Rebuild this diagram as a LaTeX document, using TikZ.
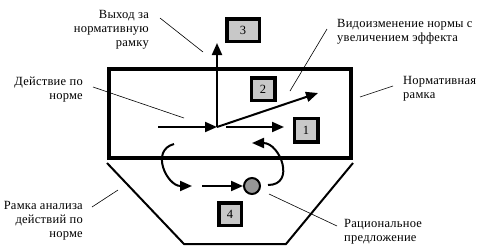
\documentclass[tikz,border=0pt]{standalone}
\usepackage{fontspec}
\setmainfont[LetterSpace=2]{Liberation Serif}
\usetikzlibrary{arrows, arrows.meta}
\definecolor{boxgray}{RGB}{200,200,200}
\definecolor{dotgray}{RGB}{150,150,150}

\begin{document}
\begin{tikzpicture}[x=1pt, y=-1pt,
		nummer/.style={draw, fill=boxgray, line width=3.5pt, inner sep=0pt, minimum width=23.5pt, minimum height=22.5pt, font=\fontsize{12.5}{12}\selectfont},
		beschr/.style={inner sep=0pt, font=\fontsize{12.5}{14}\selectfont},
		pfeil/.style={line width=2pt, -{Triangle[length=12pt,width=10pt]}},
		zeiger/.style={line width=0.6pt}]
		\useasboundingbox (0,0) rectangle (482,250);
		% Rahmen zeichnen
		\draw[line width=4pt] (109,69) rectangle (351,158);
		\draw[line width=2pt, line join=miter] (107,163) -- (184,244) -- (286,244) -- (353,163);
		% Nummern
		\node[nummer, minimum width=32.5pt] (n3) at (243,30) {3};
		\node[nummer] (n2) at (263,89) {2};
		\node[nummer, minimum height=23.5pt] (n1) at (306,130) {1};
		\node[nummer, minimum width=22.5pt] (n4) at (230,214) {4};
		% Pfeile
		\coordinate (mitte) at (217,127);
		\coordinate (ein) at (158,127);
		\coordinate (aus) at (226,127);
		\coordinate (ausende) at (284,127);
		\coordinate (oben) at (217,43);
		\coordinate (schraeg) at (318,93);
		\draw[pfeil] (ein) -- (mitte);
		\draw[pfeil] (mitte) -- (oben);
		\draw[pfeil] (aus) -- (ausende);
		\draw[pfeil] (mitte) -- (schraeg);
		% Kreislauf unten
		\node[circle, draw, fill=dotgray, line width=2pt, minimum size=16pt, inner sep=0pt] (punkt) at (252,186) {};
		\coordinate (lstart) at (174,144);
		\coordinate (lende) at (192,186);
		\coordinate (mstart) at (202,186);
		\coordinate (rstart) at (268,185);
		\coordinate (rende) at (252,143);
		\draw[pfeil] (lstart) to[out=195, in=180, looseness=1.4] (lende);
		\draw[pfeil] (mstart) -- (punkt.west);
		\draw[pfeil] (rstart) to[out=0, in=0, looseness=1.6] (rende);
		%Beschriftung
		\node[beschr, align=right, anchor=east] (vyhod) at (149,30) {Выход за\\нормативную\\рамку};
		\node[beschr, align=right, anchor=east] (dejstvie) at (83,90) {Действие по\\норме};
		\node[beschr, align=left, anchor=west] (vidoizm) at (337,32) {Видоизменение нормы с\\увеличением эффекта};
		\node[beschr, align=left, anchor=west] (normramka) at (403,89) {Нормативная\\рамка};
		\node[beschr, align=right, anchor=east] (analiz) at (83,221) {Рамка анализа\\действий по\\норме};
		\node[beschr, align=left, anchor=west] (racio) at (344,232) {Рациональное\\предложение};
		% Zeigerlinien
		\draw[zeiger] (vyhod.east) ++(11,-12) -- (203,52);
		\draw[zeiger] (dejstvie.east) ++(10,-3) -- (184,118);
		\draw[zeiger] (vidoizm.west) ++(-10,-3) -- (290,91);
		\draw[zeiger] (normramka.west) ++(-10,-3) -- (360,97);
		\draw[zeiger] (analiz.east) ++(9,-14) -- (118,190);
		\draw[zeiger] (racio.west) ++(-7,-6) -- (269,194);
	\end{tikzpicture}
\end{document}
